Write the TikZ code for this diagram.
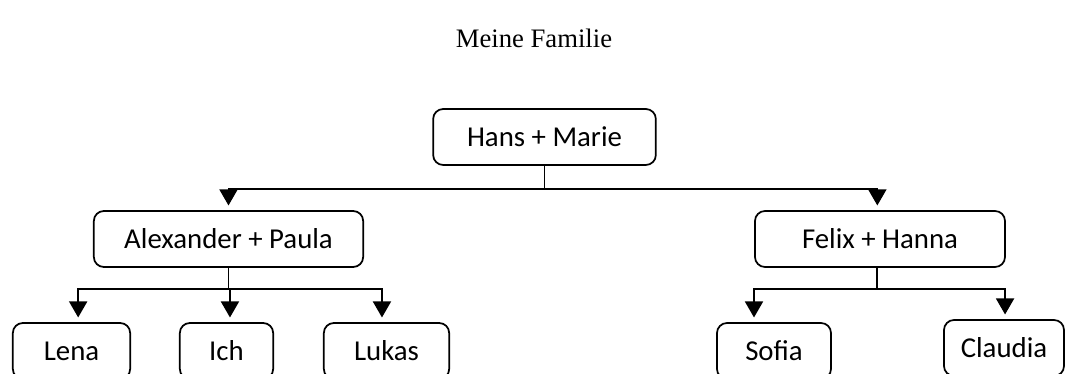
\documentclass[tikz,border=0pt]{standalone}
\usepackage{fontspec}
\usepackage{tikz}
\usetikzlibrary{arrows.meta}
\setmainfont{Liberation Serif}
\newfontfamily\boxfont{Carlito}

\begin{document}
\begin{tikzpicture}[x=0.75pt,y=-0.75pt,
		box/.style={draw,rounded corners=7.5pt,line width=1.3pt,minimum height=42pt,inner sep=0pt,font=\boxfont\fontsize{21.6pt}{26pt}\selectfont},
		arr/.style={line width=1.3pt,-{Triangle[width=13.5pt,length=12pt]},shorten >=3.5pt},
		bar/.style={line width=1.3pt}]
			\clip (0,0) rectangle (1068,374);
			\node (title) at (534,38) {\fontsize{20pt}{24pt}\selectfont Meine Familie};
			
			\foreach \n/\t/\x/\y/\w in {hans/Hans + Marie/544.5/137/167pt,alex/Alexander + Paula/228.5/239/202pt,felix/Felix + Hanna/880/239/187.5pt,lena/Lena/71.5/351/88pt,ich/Ich/226.5/351/70pt,lukas/Lukas/386.5/351/94pt,sofia/Sofia/774/351/85.5pt,claudia/Claudia/1004/348/90pt}{
				\node[box,minimum width=\w] (\n) at (\x,\y) {\t};
			}
			
			\draw[bar] (hans.south) -- ++(0,23) coordinate (hb);
			\draw[arr] (hb) -| (alex.north);
			\draw[arr] (hb) -| ([xshift=-2pt]felix.north);
			
			\draw[bar] (alex.south) -- ++(0,21) coordinate (ab);
			\draw[arr] (ab) -| ([xshift=5pt]lena.north);
			\draw[arr] (ab) -| ([xshift=2.6pt]ich.north);
			\draw[arr] (ab) -| ([xshift=-3.4pt]lukas.north);
			
			\draw[bar] ([xshift=-2pt]felix.south) -- ++(0,21) coordinate (fb);
			\draw[arr] (fb) -| ([xshift=-15pt]sofia.north);
			\draw[arr] (fb) -| ([xshift=0.8pt]claudia.north);
		\end{tikzpicture}
\end{document}
